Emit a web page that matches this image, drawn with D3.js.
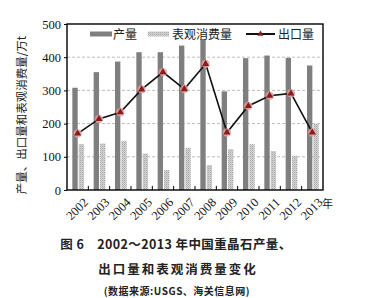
<!DOCTYPE html>
<html>
<head>
<meta charset="utf-8">
<script src="https://cdn.jsdelivr.net/npm/d3@7"></script>
<style>
  html, body { margin: 0; padding: 0; background: #fff; }
  svg { display: block; }
</style>
</head>
<body>
<div id="chart"></div>
<script>
'use strict';

// データ
const years = ['2002', '2003', '2004', '2005', '2006', '2007', '2008', '2009', '2010', '2011', '2012', '2013'];
const production = [308, 355, 387, 415, 415, 435, 455, 297, 397, 405, 398, 375];
const consumption = [138, 140, 148, 110, 60, 127, 75, 123, 138, 117, 103, 200];
const exports = [170, 214, 234, 303, 355, 304, 380, 173, 253, 284, 291, 173];
const yTicks = [0, 100, 200, 300, 400, 500];

const width = 372;
const height = 298;
const plot = { left: 67, top: 24, right: 323, bottom: 190 };
const serif = '"Liberation Serif", "DejaVu Serif", serif';
const cjk = '"Noto Sans CJK SC", sans-serif';

const svg = d3.select('#chart')
    .append('svg')
    .attr('width', width)
    .attr('height', height);

// 点描パターン（表观消费量）
const defs = svg.append('defs');
const pat = defs.append('pattern')
    .attr('id', 'dots')
    .attr('width', 2)
    .attr('height', 2)
    .attr('patternUnits', 'userSpaceOnUse');
pat.append('rect').attr('width', 2).attr('height', 2).attr('fill', '#d6d6d6');
pat.append('rect').attr('width', 1).attr('height', 1).attr('fill', '#a8a8a8');
pat.append('rect').attr('x', 1).attr('y', 1).attr('width', 1).attr('height', 1).attr('fill', '#bdbdbd');

const x = d3.scaleBand()
    .domain(years)
    .range([plot.left, plot.right]);
const bw = x.bandwidth();
const sub = d3.scaleBand()
    .domain(['prod', 'cons'])
    .range([bw * 0.25, bw * 0.8])
    .paddingInner(0.16);
const y = d3.scaleLinear()
    .domain([0, 500])
    .range([plot.bottom, plot.top]);

// グリッド線
svg.append('g')
    .selectAll('line')
    .data(yTicks.filter(d => d > 0 && d < 500))
    .enter()
    .append('line')
    .attr('x1', plot.left)
    .attr('x2', plot.right)
    .attr('y1', d => y(d))
    .attr('y2', d => y(d))
    .attr('stroke', '#bdbdbd')
    .attr('stroke-width', 1)
    .attr('stroke-dasharray', '3,2');

// 棒グラフ
svg.append('g')
    .selectAll('rect')
    .data(production)
    .enter()
    .append('rect')
    .attr('x', (d, i) => x(years[i]) + sub('prod'))
    .attr('width', sub.bandwidth())
    .attr('y', d => y(d))
    .attr('height', d => y(0) - y(d))
    .attr('fill', '#7f7f7f');
svg.append('g')
    .selectAll('rect')
    .data(consumption)
    .enter()
    .append('rect')
    .attr('x', (d, i) => x(years[i]) + sub('cons'))
    .attr('width', sub.bandwidth())
    .attr('y', d => y(d))
    .attr('height', d => y(0) - y(d))
    .attr('fill', 'url(#dots)');

// 出口量の折れ線
const line = d3.line()
    .x((d, i) => x(years[i]) + bw / 2)
    .y(d => y(d));
svg.append('path')
    .datum(exports)
    .attr('d', line)
    .attr('fill', 'none')
    .attr('stroke', '#111')
    .attr('stroke-width', 1.6);

const tri = d3.symbol().type(d3.symbolTriangle);
const markers = svg.append('g')
    .selectAll('g')
    .data(exports)
    .enter()
    .append('g')
    .attr('transform', (d, i) => `translate(${x(years[i]) + bw / 2},${y(d)})`);
markers.append('circle').attr('r', 4.2).attr('fill', '#e8a0a0').attr('opacity', 0.8);
markers.append('path').attr('d', tri.size(22)).attr('fill', '#8b1c1c');

// 枠と軸
svg.append('rect')
    .attr('x', plot.left)
    .attr('y', plot.top)
    .attr('width', plot.right - plot.left)
    .attr('height', plot.bottom - plot.top)
    .attr('fill', 'none')
    .attr('stroke', '#000')
    .attr('stroke-width', 1.4);

const yAxis = svg.append('g')
    .attr('transform', `translate(${plot.left},0)`)
    .call(d3.axisLeft(y).tickValues(yTicks).tickSize(3).tickPadding(3));
yAxis.select('.domain').remove();
yAxis.selectAll('text')
    .attr('font-family', serif)
    .attr('font-size', 12.5)
    .attr('fill', '#111');

// x軸の目盛り（内向き）
const bounds = years.slice(1).map(d => x(d));
svg.append('g')
    .selectAll('line')
    .data(bounds)
    .enter()
    .append('line')
    .attr('x1', d => d)
    .attr('x2', d => d)
    .attr('y1', plot.bottom)
    .attr('y2', plot.bottom - 4)
    .attr('stroke', '#000')
    .attr('stroke-width', 1);

svg.append('g')
    .selectAll('text')
    .data(years)
    .enter()
    .append('text')
    .attr('transform', d => `translate(${x(d) + bw / 2 + 5},${plot.bottom + 7}) rotate(-45)`)
    .attr('text-anchor', 'end')
    .attr('dy', '0.7em')
    .attr('font-family', serif)
    .attr('font-size', 12.5)
    .attr('fill', '#111')
    .text(d => d);
svg.append('text')
    .attr('x', plot.right - 1)
    .attr('y', 208)
    .attr('font-family', cjk)
    .attr('font-size', 11)
    .attr('fill', '#222')
    .text('年');

// y軸ラベル
svg.append('text')
    .attr('transform', `translate(26,${(plot.top + plot.bottom) / 2 + 8}) rotate(-90)`)
    .attr('text-anchor', 'middle')
    .attr('font-family', cjk)
    .attr('font-size', 11.5)
    .attr('fill', '#222')
    .text('产量、出口量和表观消费量/万t');

// 凡例
const legend = svg.append('g').attr('transform', `translate(0,${plot.top + 10})`);
legend.append('rect').attr('x', 90).attr('y', -2.5).attr('width', 22).attr('height', 5).attr('fill', '#7f7f7f');
legend.append('text').attr('x', 113).attr('y', 4.5).attr('font-family', cjk).attr('font-size', 12).attr('fill', '#222').text('产量');
legend.append('rect').attr('x', 148).attr('y', -2.5).attr('width', 21).attr('height', 5).attr('fill', 'url(#dots)');
legend.append('text').attr('x', 172).attr('y', 4.5).attr('font-family', cjk).attr('font-size', 12).attr('fill', '#222').text('表观消费量');
legend.append('line').attr('x1', 246).attr('x2', 275).attr('y1', 0).attr('y2', 0).attr('stroke', '#111').attr('stroke-width', 2);
legend.append('path').attr('transform', 'translate(260.5,0)').attr('d', tri.size(16)).attr('fill', '#8b1c1c');
legend.append('text').attr('x', 278).attr('y', 4.5).attr('font-family', cjk).attr('font-size', 12).attr('fill', '#222').text('出口量');

// 図のキャプション
const cap = svg.append('g')
    .attr('font-family', cjk)
    .attr('fill', '#222')
    .attr('text-anchor', 'middle');
cap.append('text').attr('x', 176).attr('y', 249).attr('font-size', 12.5).attr('font-weight', 'bold')
    .attr('letter-spacing', 0.4)
    .text('图 6　2002～2013 年中国重晶石产量、');
cap.append('text').attr('x', 178).attr('y', 274).attr('font-size', 12.5).attr('font-weight', 'bold')
    .attr('letter-spacing', 2)
    .text('出口量和表观消费量变化');
cap.append('text').attr('x', 177).attr('y', 295).attr('font-size', 10).attr('font-weight', 'bold')
    .attr('letter-spacing', 0.5)
    .text('(数据来源:USGS、海关信息网)');
</script>
</body>
</html>
